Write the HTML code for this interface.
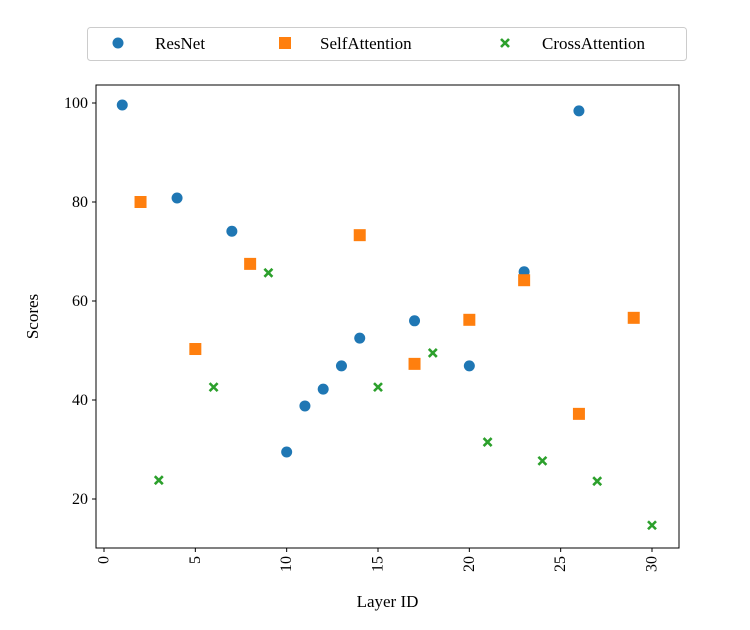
<!DOCTYPE html>
<html><head><meta charset="utf-8">
<style>
html,body{margin:0;padding:0;background:#fff;}
svg{display:block;font-family:"Liberation Serif","DejaVu Serif",serif;}
</style></head>
<body>
<svg id="chart" width="750" height="630" viewBox="0 0 750 630"></svg>
<script>
const xTicks=[0,5,10,15,20,25,30];
const yTicks=[20,40,60,80,100];
const resnetX=[1,4,7,10,11,12,13,14,17,20,23,26];
const resnetY=[99.6,80.8,74.1,29.5,38.8,42.2,46.9,52.5,56,46.9,65.9,98.4];
const selfX=[2,5,8,14,17,20,23,26,29];
const selfY=[80,50.3,67.5,73.3,47.3,56.2,64.2,37.2,56.6];
const crossX=[3,6,9,15,18,21,24,27,30];
const crossY=[23.8,42.6,65.7,42.6,49.5,31.5,27.7,23.6,14.7];

const NS="http://www.w3.org/2000/svg";
const svg=document.getElementById('chart');
const L=96,R=679,T=85,B=548;
function sx(v){return 104+(v-0)*(652-104)/30;}
function sy(v){return 103+(100-v)*(499-103)/80;}
function mk(tag,attrs,parent){const e=document.createElementNS(NS,tag);for(const k in attrs)e.setAttribute(k,attrs[k]);(parent||svg).appendChild(e);return e;}

const axes=mk('g',{});


const frame=mk('rect',{x:L,y:T,width:R-L,height:B-T,fill:'none',stroke:'#000','stroke-width':1},axes);



xTicks.forEach(t=>{
  const x=sx(t);
  const tk=mk('line',{x1:x,x2:x,y1:B,y2:B+4,stroke:'#000'},axes);
  
  
  const tx=mk('text',{x:0,y:0,'font-size':16,'text-anchor':'end','dominant-baseline':'central',transform:`translate(${x},${B+8}) rotate(-90)`},axes);
  tx.textContent=t;
  
  
});
yTicks.forEach(t=>{
  const y=sy(t);
  const tk=mk('line',{x1:L-4,x2:L,y1:y,y2:y,stroke:'#000'},axes);
  
  
  const tx=mk('text',{x:L-8,y:y+5,'font-size':16,'text-anchor':'end'},axes);
  tx.textContent=t;
  
  
});
const xt=mk('text',{x:(L+R)/2,y:607,'font-size':17,'text-anchor':'middle'});
xt.textContent='Layer ID';


const yt=mk('text',{x:0,y:0,'font-size':17,'text-anchor':'middle',transform:`translate(38,${(T+B)/2}) rotate(-90)`});
yt.textContent='Scores';



function circle(g,x,y){return mk('circle',{cx:x,cy:y,r:5.5,fill:'#1f77b4'},g);}
function square(g,x,y){return mk('rect',{x:x-6,y:y-6,width:12,height:12,fill:'#ff7f0e'},g);}
function cross(g,x,y){return mk('path',{d:`M${x-4},${y-4}L${x+4},${y+4}M${x-4},${y+4}L${x+4},${y-4}`,stroke:'#2ca02c','stroke-width':2.6},g);}

const series=[['resnet',resnetX,resnetY,circle],['self-attention',selfX,selfY,square],['cross-attention',crossX,crossY,cross]];
series.forEach(([n,xs,ys,f])=>{
  const g=mk('g',{});
  
  
  xs.forEach((xv,i)=>{
    const m=f(g,sx(xv),sy(ys[i]));
    
    
  });
});

const lg=mk('g',{});


mk('rect',{x:87.5,y:27.5,width:599,height:33,rx:3,fill:'#fff',stroke:'#ccc'},lg);
const entries=[['ResNet',circle,118,155],['SelfAttention',square,285,320],['CrossAttention',cross,505,542]];
entries.forEach(([lab,f,mx,tx])=>{
  const eg=mk('g',{},lg);
  
  
  f(eg,mx,43);
  const t=mk('text',{x:tx,y:49,'font-size':17},eg);
  t.textContent=lab;
});
</script>
</body></html>
